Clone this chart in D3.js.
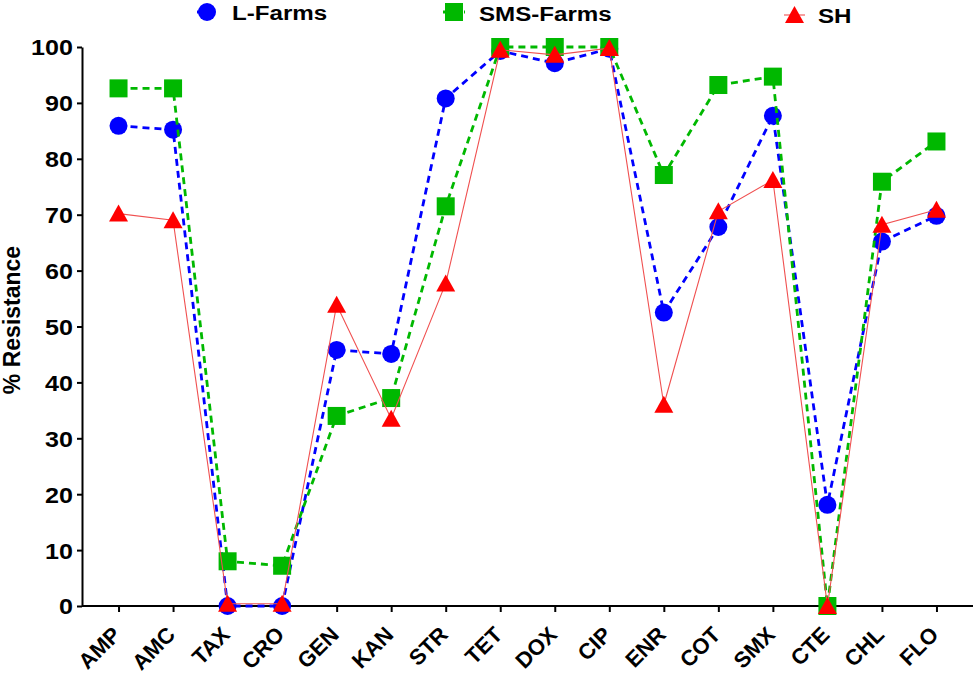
<!DOCTYPE html>
<html><head><meta charset="utf-8">
<script src="https://cdn.jsdelivr.net/npm/d3@7/dist/d3.min.js"></script>
<style>body{margin:0;background:#fff}svg{display:block}text{font-family:"Liberation Sans",Arial,sans-serif;font-weight:bold}</style>
</head><body>
<svg id="c" width="975" height="676"></svg>
<script>
const categories = ["AMP","AMC","TAX","CRO","GEN","KAN","STR","TET","DOX","CIP","ENR","COT","SMX","CTE","CHL","FLO"];
const lFarms   = [85.9,85.2,0,0,45.8,45.1,90.8,99.3,97.1,99.7,52.5,67.8,87.7,18.1,65.2,69.8];
const smsFarms = [92.6,92.6,8.0,7.2,34.0,37.2,71.5,100,100,100,77.1,93.2,94.7,0,75.9,83.1];
const sh       = [70.2,69.0,0.4,0.4,53.9,33.5,57.7,99.5,98.6,99.8,36.0,70.6,76.2,0,68.2,70.9];
const yTicks = [0,10,20,30,40,50,60,70,80,90,100];
const seriesNames = ["L-Farms","SMS-Farms","SH"];

const svg = d3.select("#c");
const x = d3.scalePoint().domain(categories).range([82,973]).padding(0.67);
const y = d3.scaleLinear().domain([0,100]).range([606,47]);

// axes
const yAxis = svg.append("g").attr("transform","translate(82,0)")
  .call(d3.axisLeft(y).tickValues(yTicks).tickSize(5).tickSizeOuter(0).tickPadding(4));
yAxis.select(".domain").attr("stroke","#000").attr("stroke-width",2);
yAxis.selectAll(".tick line").attr("stroke","#000").attr("stroke-width",2);
yAxis.selectAll(".tick text").attr("font-size",22).attr("fill","#000").attr("dy","0.36em")
  .attr("x",-8).attr("transform","scale(1.14,1)");

const xAxis = svg.append("g").attr("transform","translate(0,606)")
  .call(d3.axisBottom(x).tickSize(6).tickSizeOuter(0));
xAxis.select(".domain").attr("stroke","#000").attr("stroke-width",2).attr("d","M82,0H973");
xAxis.selectAll(".tick line").attr("stroke","#000").attr("stroke-width",2);
xAxis.selectAll(".tick text").attr("font-size",22).attr("fill","#000")
  .attr("text-anchor","end").attr("dy",null).attr("y",0)
  .attr("transform","translate(3,30) rotate(-45)");

svg.append("text").attr("transform","translate(20,320) rotate(-90)")
  .attr("text-anchor","middle").attr("font-size",23).text("% Resistance");

const series = [
  {name:seriesNames[0], values:lFarms, color:"#0000ff", dash:"7,5", w:2.8, shape:"circle"},
  {name:seriesNames[1], values:smsFarms, color:"#00b800", dash:"7,5", w:2.8, shape:"square"},
  {name:seriesNames[2], values:sh, color:"#f05050", dash:null, w:1.1, shape:"triangle", mcolor:"#ff0000"}
];
const line = d3.line().x((d,i)=>x(categories[i])).y(d=>y(d));

function marker(g, shape, color, cx, cy){
  if(shape==="circle") g.append("circle").attr("cx",cx).attr("cy",cy).attr("r",9).attr("fill",color);
  else if(shape==="square") g.append("rect").attr("x",cx-9).attr("y",cy-9).attr("width",18).attr("height",18).attr("fill",color);
  else g.append("path").attr("d",`M${cx},${cy-9}L${cx+9.5},${cy+8}L${cx-9.5},${cy+8}Z`).attr("fill",color);
}

series.forEach(s=>{
  const g = svg.append("g");
  const p = g.append("path").datum(s.values).attr("d",line).attr("fill","none")
    .attr("stroke",s.color).attr("stroke-width",s.w);
  if(s.dash) p.attr("stroke-dasharray",s.dash);
  s.values.forEach((v,i)=>marker(g,s.shape,s.mcolor||s.color,x(categories[i]),y(v)));
});

// legend
const legend = [
  {x1:197,x2:217,cy:12,tx:232,ty:20},
  {x1:443,x2:465,cy:12,tx:479,ty:21},
  {x1:784,x2:805,cy:15,tx:818,ty:23}
];
series.forEach((s,i)=>{
  const L = legend[i], g = svg.append("g");
  const ln = g.append("line").attr("x1",L.x1).attr("x2",L.x2).attr("y1",L.cy).attr("y2",L.cy)
    .attr("stroke",s.color).attr("stroke-width",s.w);
  if(s.dash) ln.attr("stroke-dasharray","4,3");
  marker(g,s.shape,s.mcolor||s.color,(L.x1+L.x2)/2,L.cy);
  g.append("text").attr("transform",`translate(${L.tx},${L.ty}) scale(1.15,1)`)
    .attr("font-size",21).text(s.name);
});
</script>
</body></html>
